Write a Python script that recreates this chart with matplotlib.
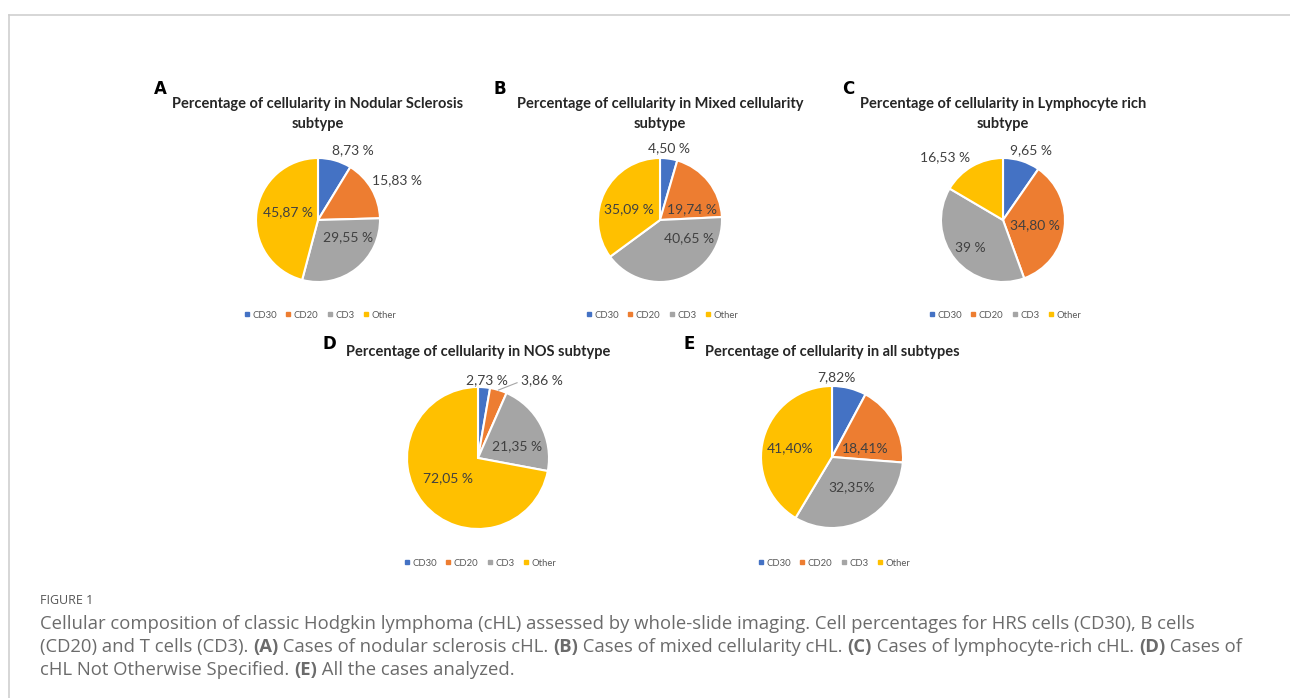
import numpy as np
import matplotlib
matplotlib.use("Agg")
import matplotlib.pyplot as plt
from matplotlib.lines import Line2D

W, H = 1290, 698

# cell populations and their colours
categories = ["CD30", "CD20", "CD3", "Other"]
colors = ["#4472C4", "#ED7D31", "#A5A5A5", "#FFC000"]

# percentages per subtype
ns_vals = [8.73, 15.83, 29.55, 45.87]
mc_vals = [4.50, 19.74, 40.65, 35.09]
lr_vals = [9.65, 34.80, 39.0, 16.53]
nos_vals = [2.73, 3.86, 21.35, 72.05]
all_vals = [7.82, 18.41, 32.35, 41.40]

ns_labels = ["8,73 %", "15,83 %", "29,55 %", "45,87 %"]
mc_labels = ["4,50 %", "19,74 %", "40,65 %", "35,09 %"]
lr_labels = ["9,65 %", "34,80 %", "39 %", "16,53 %"]
nos_labels = ["2,73 %", "3,86 %", "21,35 %", "72,05 %"]
all_labels = ["7,82%", "18,41%", "32,35%", "41,40%"]

titles = ["Percentage of cellularity in Nodular Sclerosis\nsubtype",
          "Percentage of cellularity in Mixed cellularity\nsubtype",
          "Percentage of cellularity in Lymphocyte rich\nsubtype",
          "Percentage of cellularity in NOS subtype",
          "Percentage of cellularity in all subtypes"]
letters = ["A", "B", "C", "D", "E"]

# layout in pixels: pie centre, radius, title centre, letter pos, legend y
panels = [
    dict(vals=ns_vals, labs=ns_labels, c=(318, 220), r=62, title=(318, 114), letter=(160, 89), leg=315,
         lab_xy=[(0.57, 1.13), (1.27, 0.64), (0.48, -0.28), (-0.49, 0.13)]),
    dict(vals=mc_vals, labs=mc_labels, c=(660, 220), r=62, title=(660, 114), letter=(500, 89), leg=315,
         lab_xy=[(0.15, 1.16), (0.52, 0.17), (0.47, -0.29), (-0.50, 0.17)]),
    dict(vals=lr_vals, labs=lr_labels, c=(1003, 220), r=62, title=(1003, 114), letter=(848, 89), leg=315,
         lab_xy=[(0.45, 1.13), (0.52, -0.08), (-0.53, -0.45), (-0.94, 1.02)]),
    dict(vals=nos_vals, labs=nos_labels, c=(478, 458), r=71, title=(478, 352), letter=(329, 344), leg=563,
         lab_xy=[(0.13, 1.09), (0.90, 1.09), (0.55, 0.16), (-0.42, -0.28)]),
    dict(vals=all_vals, labs=all_labels, c=(832, 457), r=71, title=(832, 352), letter=(689, 344), leg=563,
         lab_xy=[(0.06, 1.12), (0.47, 0.13), (0.27, -0.42), (-0.59, 0.13)]),
]

chart_font = "Lato"
fig = plt.figure(figsize=(W / 100, H / 100), dpi=100)
fig.patch.set_facecolor("white")

# full-figure overlay axes for frame and caption
over = fig.add_axes([0, 0, 1, 1])
over.set_xlim(0, W)
over.set_ylim(H, 0)
over.axis("off")
over.plot([9, W], [15, 15], color="#cfcfcf", lw=1.2)
over.plot([9, 9], [15, H], color="#cfcfcf", lw=1.2)

for i, p in enumerate(panels):
    cx, cy = p["c"]
    r = p["r"]
    B = 1.7 * r
    ax = fig.add_axes([(cx - B) / W, (H - cy - B) / H, 2 * B / W, 2 * B / H])
    wedges, _ = ax.pie(p["vals"], colors=colors, startangle=90, counterclock=False,
                       wedgeprops=dict(edgecolor="white", linewidth=1.5))
    ax.set_xlim(-1.7, 1.7)
    ax.set_ylim(-1.7, 1.7)
    ax.set_aspect("auto")
    ax.axis("off")
    for lab, (lx, ly) in zip(p["labs"], p["lab_xy"]):
        ax.text(lx, ly, lab, ha="center", va="center", fontsize=10,
                family=chart_font, color="#404040")
    if i == 3:
        # leader line for the small CD20 slice
        w = wedges[1]
        ang = np.deg2rad((w.theta1 + w.theta2) / 2)
        ax.plot([np.cos(ang), 0.55], [np.sin(ang), 1.06], color="#a6a6a6", lw=0.8)

    # title and panel letter
    tx, ty = p["title"]
    fig.text(tx / W, 1 - ty / H, titles[i], ha="center", va="center", fontsize=10.5,
             family=chart_font, fontweight="bold", color="#262626", linespacing=1.55)
    lx, ly = p["letter"]
    fig.text(lx / W, 1 - ly / H, letters[i], ha="center", va="center", fontsize=12,
             family="DejaVu Sans", fontweight="bold", color="black")

    handles = [Line2D([], [], marker="s", ls="", color=c, markersize=3.2) for c in colors]
    fig.legend(handles, categories, loc="center", bbox_to_anchor=((cx + 2) / W, 1 - p["leg"] / H),
               ncol=4, frameon=False, handlelength=0.6, handletextpad=0.3,
               columnspacing=0.9, prop=dict(family=chart_font, size=6.8), labelcolor="#595959")

# caption with bold panel references
cap_font = "Open Sans"
cap_color = "#6b6b6b"
over.text(40, 600, "FIGURE 1", ha="left", va="center", fontsize=9, family=cap_font,
          color="#555555")

caption_lines = [
    [("Cellular composition of classic Hodgkin lymphoma (cHL) assessed by whole-slide imaging. "
      "Cell percentages for HRS cells (CD30), B cells", False)],
    [("(CD20) and T cells (CD3). ", False), ("(A)", True), (" Cases of nodular sclerosis cHL. ", False),
     ("(B)", True), (" Cases of mixed cellularity cHL. ", False), ("(C)", True),
     (" Cases of lymphocyte-rich cHL. ", False), ("(D)", True), (" Cases of", False)],
    [("cHL Not Otherwise Specified. ", False), ("(E)", True), (" All the cases analyzed.", False)],
]
line_y = [624, 647, 670]
for y, runs in zip(line_y, caption_lines):
    prev = None
    for txt, bold in runs:
        kw = dict(fontsize=13.3, family=cap_font, color=cap_color,
                  fontweight="bold" if bold else "normal", va="center", ha="left")
        if prev is None:
            prev = over.text(40, y, txt, **kw)
        else:
            prev = over.annotate(txt, xy=(1, 0.5), xycoords=prev, **kw)

fig.savefig("out.png", dpi=100, facecolor="white")
